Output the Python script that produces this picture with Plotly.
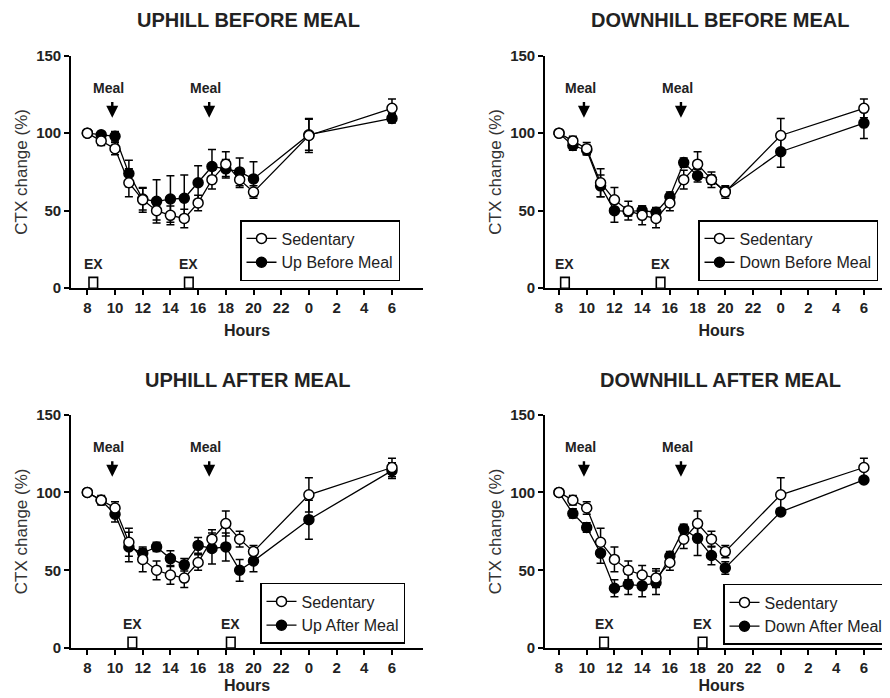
import plotly.graph_objects as go

# ---------------- data ----------------
hours = [8, 9, 10, 11, 12, 13, 14, 15, 16, 17, 18, 19, 20, 24, 30]
tick_vals = [8, 10, 12, 14, 16, 18, 20, 22, 24, 26, 28, 30]
tick_text = ["8", "10", "12", "14", "16", "18", "20", "22", "0", "2", "4", "6"]

sedentary = [100, 95, 90, 68, 57, 50, 47, 45, 55, 70, 80, 70, 62, 98.5, 116]
sedentary_err = [0, 3, 4, 9, 8, 6, 6, 6, 5, 6, 8, 5, 4, 11, 6]

up_before = [100, 99, 98, 74, 57.5, 56, 57.5, 58, 68, 78.5, 77, 75, 70.5, 99, 109.5]
up_before_err = [0, 2, 3, 8.5, 7, 14, 15, 15, 11, 11, 6, 9, 11, 10, 3]

down_before = [100, 92, 89, 66, 50, 49.5, 50, 49, 59, 81, 72.5, 70, 62.5, 88, 106.5]
down_before_err = [0, 3, 3, 7, 7.5, 3, 3, 3, 3, 3, 4, 3, 3, 10, 10]

up_after = [100, 95, 86, 65, 61, 65, 57.5, 53.5, 66, 64, 65, 50, 56, 82.5, 114]
up_after_err = [0, 2, 5, 9.5, 3, 3, 5, 4, 5, 10, 9, 7, 7, 12.5, 5]

down_after = [100, 86.5, 77.5, 61, 38.5, 41, 40, 42, 59, 76.5, 70.5, 59.5, 51.5, 87.5, 108]
down_after_err = [0, 3, 3, 6.5, 5.5, 6.5, 7, 7.5, 3, 3, 11, 6, 4, 2, 2]

panel_titles = ["UPHILL BEFORE MEAL", "DOWNHILL BEFORE MEAL",
                "UPHILL AFTER MEAL", "DOWNHILL AFTER MEAL"]
exercise_names = ["Up Before Meal", "Down Before Meal", "Up After Meal", "Down After Meal"]
exercise_values = [up_before, down_before, up_after, down_after]
exercise_errors = [up_before_err, down_before_err, up_after_err, down_after_err]

meal_times = [9.8, 16.8]
ex_times_before = [8.43, 15.33]
ex_times_after = [11.25, 18.36]
ex_times = [ex_times_before, ex_times_before, ex_times_after, ex_times_after]

# ---------------- layout geometry ----------------
W, H = 890, 698
FONT = "Liberation Sans, Arial, sans-serif"
TXT = "#222222"

# page offset / effective plotting height observed in the viewer
OX, OY, EH = 8.0, 17.5, 679.2


def px2x(px):
    return (px - OX) / W


def px2y(py):
    return 1 - (py - OY) / EH


x_domains = [[px2x(71), px2x(423)], [px2x(545), 1.0], [px2x(71), px2x(423)], [px2x(545), 1.0]]
x_ranges = [[6.82, 32.24], [6.99, 32.46], [6.82, 32.24], [6.99, 32.46]]
y_domains = [[px2y(288), px2y(56)], [px2y(288), px2y(56)],
             [px2y(647), px2y(414)], [px2y(647), px2y(414)]]
hours_standoff = [10, 10, 5, 5]
title_pos = [(248, 20), (720, 20), (248, 380), (720, 380)]
legend_pos = [(240, 220), (698, 220), (260, 582), (723, 583)]

fig = go.Figure()
layout = dict(
    width=W, height=H,
    margin=dict(l=0, r=0, t=0, b=0),
    paper_bgcolor="white", plot_bgcolor="white",
    font=dict(family=FONT, color=TXT),
    showlegend=True,
)
annotations = []
shapes = []

for i in range(4):
    sfx = "" if i == 0 else str(i + 1)
    xa, ya = "x" + sfx, "y" + sfx
    leg = "legend" + sfx

    # exercise group (drawn first, sedentary on top)
    fig.add_trace(go.Scatter(
        x=hours, y=exercise_values[i], name=exercise_names[i],
        mode="lines+markers", xaxis=xa, yaxis=ya, legend=leg,
        line=dict(color="black", width=1.3),
        marker=dict(symbol="circle", size=10, color="black",
                    line=dict(color="black", width=1.5)),
        error_y=dict(type="data", array=exercise_errors[i], visible=True,
                     color="black", thickness=1.5, width=4),
        cliponaxis=False,
    ))
    fig.add_trace(go.Scatter(
        x=hours, y=sedentary, name="Sedentary",
        mode="lines+markers", xaxis=xa, yaxis=ya, legend=leg,
        line=dict(color="black", width=1.3),
        marker=dict(symbol="circle", size=10, color="white",
                    line=dict(color="black", width=1.5)),
        error_y=dict(type="data", array=sedentary_err, visible=True,
                     color="black", thickness=1.5, width=4),
        cliponaxis=False,
    ))

    layout["xaxis" + sfx] = dict(
        domain=x_domains[i], range=x_ranges[i], anchor=ya,
        tickvals=tick_vals, ticktext=tick_text,
        showline=True, linecolor="black", linewidth=1.6,
        ticks="outside", ticklen=5, tickwidth=1.5, tickcolor="black",
        showgrid=False, zeroline=False,
        tickfont=dict(size=15, family=FONT, color=TXT, weight="bold"),
        title=dict(text="Hours", standoff=hours_standoff[i],
                   font=dict(size=16, family=FONT, color=TXT, weight="bold")),
    )
    layout["yaxis" + sfx] = dict(
        domain=y_domains[i], range=[0, 150], anchor=xa,
        tickvals=[0, 50, 100, 150],
        showline=True, linecolor="black", linewidth=1.6,
        ticks="outside", ticklen=5, tickwidth=1.5, tickcolor="black",
        showgrid=False, zeroline=False,
        tickfont=dict(size=15, family=FONT, color=TXT, weight="bold"),
        title=dict(text="CTX change (%)", standoff=4,
                   font=dict(size=17, family=FONT, color="#333333")),
    )

    lx, ly = legend_pos[i]
    layout[leg] = dict(
        x=px2x(lx), y=px2y(ly), xanchor="left", yanchor="top",
        xref="paper", yref="paper",
        bgcolor="white", bordercolor="black", borderwidth=1.5,
        traceorder="reversed", itemwidth=30,
        font=dict(size=16, family=FONT, color=TXT),
    )

    tx, ty = title_pos[i]
    annotations.append(dict(
        x=px2x(tx), y=px2y(ty), xref="paper", yref="paper",
        text=panel_titles[i], showarrow=False, xanchor="center", yanchor="middle",
        font=dict(size=20, family=FONT, color=TXT, weight="bold"),
    ))

    for mt in meal_times:
        annotations.append(dict(
            x=mt - 0.25, y=129, xref=xa, yref=ya, text="Meal", showarrow=False,
            xanchor="center", yanchor="middle",
            font=dict(size=14, family=FONT, color=TXT, weight="bold"),
        ))
        annotations.append(dict(
            x=mt, y=110, xref=xa, yref=ya, text="", showarrow=True,
            ax=mt, ay=121, axref=xa, ayref=ya,
            arrowhead=2, arrowsize=1, arrowwidth=2.4, arrowcolor="black",
        ))

    for et in ex_times[i]:
        shapes.append(dict(
            type="rect", xref=xa, yref=ya, x0=et - 0.31, x1=et + 0.31, y0=0, y1=7,
            line=dict(color="black", width=1.6), fillcolor="white", layer="above",
        ))
        annotations.append(dict(
            x=et, y=15.5, xref=xa, yref=ya, text="EX", showarrow=False,
            xanchor="center", yanchor="middle",
            font=dict(size=14, family=FONT, color=TXT, weight="bold"),
        ))

layout["annotations"] = annotations
layout["shapes"] = shapes
fig.update_layout(**layout)
fig.write_html("out.html")
